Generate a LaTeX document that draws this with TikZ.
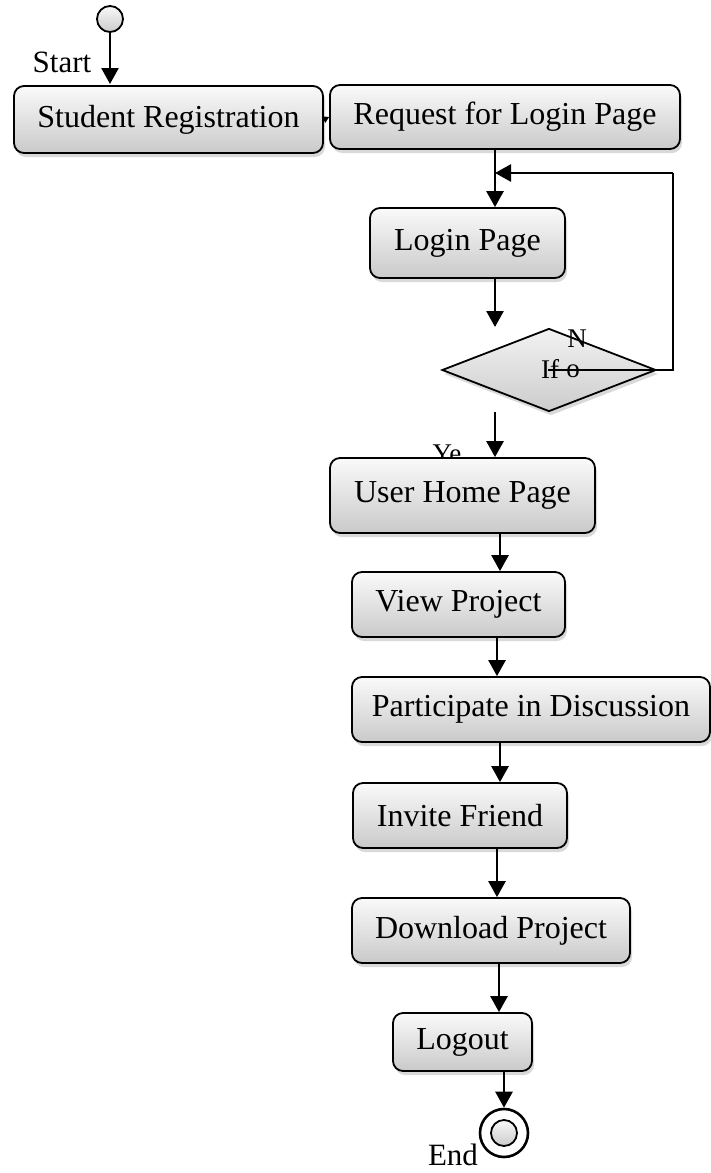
\documentclass[tikz,border=0pt]{standalone}
\usepackage{fontspec}
\setmainfont{Liberation Serif}
\usetikzlibrary{shapes.geometric,shadows,arrows.meta}

\tikzset{
  actbox/.style={draw=black, line width=1.8pt, rounded corners=10pt,
    top color=gray!4, bottom color=gray!42,
    drop shadow={shadow xshift=2pt, shadow yshift=-4pt, opacity=0.3, fill=gray},
    inner sep=0pt, font=\fontsize{32}{38}\selectfont},
  decide/.style={draw=black, line width=1.8pt, diamond, inner sep=0pt,
    top color=gray!10, bottom color=gray!40,
    drop shadow={shadow xshift=2pt, shadow yshift=-4pt, opacity=0.3, fill=gray}},
  arr/.style={line width=2.6pt, -{Triangle[width=17pt,length=16pt]}},
  plain/.style={line width=2.6pt},
  lbl/.style={inner sep=0pt, anchor=base, font=\fontsize{31}{36}\selectfont},
  smalllbl/.style={inner sep=0pt, anchor=base, font=\fontsize{27}{32}\selectfont},
}

\begin{document}
\begin{tikzpicture}[x=1pt,y=-1pt]
\useasboundingbox (0,0) rectangle (711,1173);

% initial state
\node[circle, draw=black, line width=1.8pt, minimum size=26pt, inner sep=0pt,
      top color=gray!5, bottom color=gray!40] (start) at (110,19) {};
\coordinate (startend) at (110,84);
\node[lbl] (startlbl) at (62,72) {Start};

% activities
\node[actbox, minimum width=309pt, minimum height=67pt] (sr)  at (168.5,119.5) {Student Registration};
\node[actbox, minimum width=350pt, minimum height=64pt] (rlp) at (505,117) {Request for Login Page};
\node[actbox, minimum width=195pt, minimum height=70pt] (lp)  at (467.5,243) {Login Page};

% decision
\node[decide, minimum width=214pt, minimum height=83pt] (dec) at (549,370) {};
\node[smalllbl] (nlbl) at (577,347) {N};
\node[smalllbl] (iflbl) at (550,378) {If};
\node[smalllbl] (olbl) at (573,377) {o};
\node[smalllbl] (yelbl) at (447,462) {Ye};

\node[actbox, minimum width=265pt, minimum height=75pt] (uhp) at (462.5,495.5) {User Home Page};
\node[actbox, minimum width=213pt, minimum height=65pt] (vp)  at (458.5,604.5) {View Project};
\node[actbox, minimum width=358pt, minimum height=65pt] (pid) at (531,709.5) {Participate in Discussion};
\node[actbox, minimum width=214pt, minimum height=65pt] (inv) at (460,815.5) {Invite Friend};
\node[actbox, minimum width=278pt, minimum height=65pt] (dp)  at (491,930.5) {Download Project};
\node[actbox, minimum width=139pt, minimum height=58pt] (lo)  at (462.5,1042) {Logout};

% final state
\node[circle, draw=black, line width=2.6pt, fill=white, minimum size=48pt, inner sep=0pt] (fin) at (504,1133) {};
\node[circle, draw=black, line width=1.8pt, minimum size=26pt, inner sep=0pt,
      top color=gray!5, bottom color=gray!40] (fincore) at (fin.center) {};
\node[lbl] (endlbl) at (453,1165) {End};

% helper points
\coordinate (colA) at (495,0);
\coordinate (loginend) at (495,327);
\coordinate (nstart) at (548,370);
\coordinate (ret) at (673,173);
\coordinate (join) at (495,173);

% connectors
\draw[arr] (start.south) -- (startend);
\draw[line width=1pt, -{Triangle[width=7pt,length=6pt]}] (sr.east) -- (rlp.west);
\draw[arr] (rlp.south -| colA) -- (lp.north -| colA);
\draw[arr] (lp.south -| colA) -- (loginend);
\draw[plain] (nstart) -- (dec.east) -- (dec.east -| ret) -- (ret);
\draw[arr] (ret) -- (join);
\draw[arr] (dec.south -| colA) -- (uhp.north -| colA);
\draw[arr] (uhp.south -| 500,0) -- (vp.north -| 500,0);
\draw[arr] (vp.south -| 497,0) -- (pid.north -| 497,0);
\draw[arr] (pid.south -| 500,0) -- (inv.north -| 500,0);
\draw[arr] (inv.south -| 497,0) -- (dp.north -| 497,0);
\draw[arr] (dp.south -| 499,0) -- (lo.north -| 499,0);
\draw[arr] (lo.south -| 504,0) -- (fin.north);
\end{tikzpicture}
\end{document}
